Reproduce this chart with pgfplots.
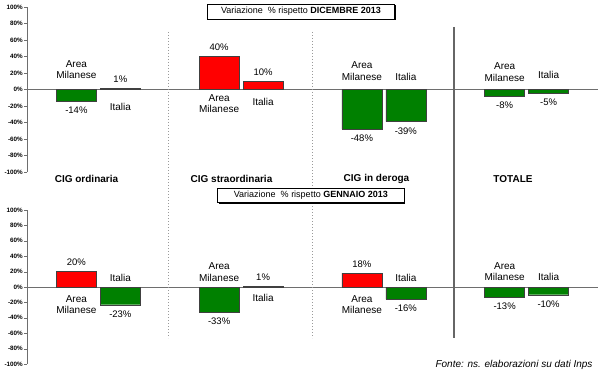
\documentclass[border=0pt]{standalone}
\usepackage{pgfplots}
\pgfplotsset{compat=1.18}
\usepackage{fontspec}
\setmainfont{Liberation Sans}
\definecolor{barred}{RGB}{255,0,0}
\definecolor{bargreen}{RGB}{0,128,0}
\definecolor{edge}{RGB}{64,64,64}
\definecolor{axgray}{RGB}{110,110,110}
\tikzset{nm/.style={font=\fontsize{10}{11.3}\selectfont, align=center, inner sep=0pt}}
\begin{document}
\begin{tikzpicture}[x=1pt,y=1pt]
\useasboundingbox (0pt,0pt) rectangle (600pt,373pt);
\pgfplotsset{
  panel/.style={
    scale only axis, width=571pt, anchor=south west,
    xmin=-0.5, xmax=3.5, ymin=-100, ymax=100,
    axis x line=middle, axis y line=left,
    axis line style={-, draw=axgray},
    xtick=\empty,
    ytick={-100,-80,...,100},
    yticklabels={-100\%,-80\%,-60\%,-40\%,-20\%,0\%,20\%,40\%,60\%,80\%,100\%},
    yticklabel style={font=\fontsize{6.3}{7}\selectfont\bfseries, inner sep=1pt},
    tick align=outside, major tick length=3pt,
    ytick style={draw=axgray},
    ybar, bar width=0.28,
    clip=false,
    nodes near coords={\pgfmathprintnumber{\pgfplotspointmeta}\%},
    every node near coord/.append style={font=\fontsize{9.5}{11}\selectfont, inner ysep=5.5pt, text=black},
    /pgf/number format/assume math mode=true,
  },
  am/.style={bar shift=-0.154, draw=edge},
  it/.style={bar shift=0.154, draw=edge},
}
% ---------- top panel: vs December 2013
\begin{axis}[panel, at={(27pt,201pt)}, height=165pt]
\addplot[am, fill=bargreen] coordinates {(0,-14) (2,-48) (3,-8)};
\addplot[am, fill=barred]   coordinates {(1,40)};
\addplot[it, fill=barred]   coordinates {(0,1) (1,10)};
\addplot[it, fill=bargreen] coordinates {(2,-39) (3,-5)};
\node[nm] at (axis cs:-0.154,23.8) {Area\\Milanese};
\node[nm] at (axis cs:0.154,-21) {Italia};
\node[nm] at (axis cs:0.846,-17) {Area\\Milanese};
\node[nm] at (axis cs:1.154,-15.4) {Italia};
\node[nm] at (axis cs:1.846,22.4) {Area\\Milanese};
\node[nm] at (axis cs:2.154,15.7) {Italia};
\node[nm] at (axis cs:2.846,21.2) {Area\\Milanese};
\node[nm] at (axis cs:3.154,17.3) {Italia};
\end{axis}
% ---------- bottom panel: vs January 2013
\begin{axis}[panel, at={(27pt,9pt)}, height=154pt]
\addplot[am, fill=barred]   coordinates {(0,20) (2,18)};
\addplot[am, fill=bargreen] coordinates {(1,-33) (3,-13)};
\addplot[it, fill=bargreen] coordinates {(0,-23) (2,-16) (3,-10)};
\addplot[it, fill=barred]   coordinates {(1,1)};
\node[nm] at (axis cs:-0.154,-22.9) {Area\\Milanese};
\node[nm] at (axis cs:0.154,12) {Italia};
\node[nm] at (axis cs:0.846,19.4) {Area\\Milanese};
\node[nm] at (axis cs:1.154,-13.8) {Italia};
\node[nm] at (axis cs:1.846,-23) {Area\\Milanese};
\node[nm] at (axis cs:2.154,12.4) {Italia};
\node[nm] at (axis cs:2.846,20.4) {Area\\Milanese};
\node[nm] at (axis cs:3.154,13) {Italia};
\end{axis}
% separators
\draw[axgray!70, dotted, line width=1pt] (168pt,341pt) -- (168pt,35pt);
\draw[axgray!70, dotted, line width=1pt] (312pt,341pt) -- (312pt,35pt);
\draw[line width=2pt, black!60] (454pt,346pt) -- (454pt,35pt);
% category labels
\begin{scope}[every node/.style={font=\fontsize{10}{12}\selectfont\bfseries}]
\node at (86.5pt,194pt) {CIG ordinaria};
\node at (231.5pt,194pt) {CIG straordinaria};
\node at (376.5pt,194pt) {CIG in deroga};
\node at (513pt,194pt) {TOTALE};
\end{scope}
% title boxes
\fill[black] (209pt,352.8pt) rectangle (395.5pt,367.8pt);
\filldraw[fill=white, draw=black, line width=0.8pt] (207.7pt,354pt) rectangle (394.3pt,369pt);
\node[font=\fontsize{9}{10}\selectfont] at (301pt,361.5pt) {Variazione \ \% rispetto \textbf{DICEMBRE 2013}};
\fill[black] (219pt,169.5pt) rectangle (405.2pt,183.1pt);
\filldraw[fill=white, draw=black, line width=0.8pt] (217.7pt,170.7pt) rectangle (404pt,184.3pt);
\node[font=\fontsize{9}{10}\selectfont] at (310.85pt,177.5pt) {Variazione \ \% rispetto \textbf{GENNAIO 2013}};
% source
\node[anchor=east, font=\fontsize{10}{12}\selectfont\itshape] at (596pt,8pt) {Fonte: ns. elaborazioni su dati Inps};
\end{tikzpicture}
\end{document}
